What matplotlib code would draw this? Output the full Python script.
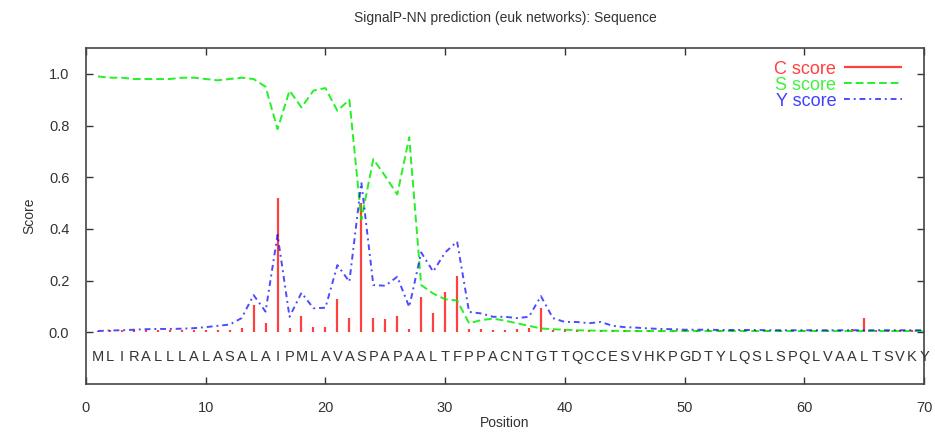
import matplotlib
matplotlib.use("Agg")
import matplotlib.pyplot as plt
from matplotlib import font_manager

title = "SignalP-NN prediction (euk networks): Sequence"
sequence = "MLIRALLLALASALAIPMLAVASPAPAALTFPPACNTGTTQCCESVHKPGDTYLQSLSPQLVAALTSVKY"
positions = list(range(1, 71))

c_score = [0.005, 0.008, 0.008, 0.008, 0.008, 0.01, 0.008, 0.01, 0.01, 0.008,
           0.008, 0.01, 0.015, 0.105, 0.035, 0.52, 0.015, 0.065, 0.02, 0.02,
           0.128, 0.055, 0.50, 0.055, 0.05, 0.065, 0.012, 0.135, 0.075, 0.155,
           0.218, 0.012, 0.012, 0.01, 0.01, 0.012, 0.015, 0.093, 0.01, 0.012,
           0.008, 0.01, 0.008, 0.01, 0.008, 0.01, 0.008, 0.008, 0.01, 0.008,
           0.01, 0.008, 0.008, 0.01, 0.008, 0.01, 0.008, 0.008, 0.01, 0.008,
           0.008, 0.01, 0.008, 0.012, 0.055, 0.01, 0.008, 0.008, 0.01, 0.008]

s_score = [0.99, 0.985, 0.985, 0.98, 0.98, 0.98, 0.98, 0.985, 0.985, 0.98,
           0.975, 0.98, 0.985, 0.98, 0.95, 0.786, 0.935, 0.87, 0.935, 0.945,
           0.857, 0.90, 0.436, 0.67, 0.604, 0.533, 0.755, 0.183, 0.15, 0.128,
           0.123, 0.035, 0.047, 0.053, 0.045, 0.035, 0.025, 0.015, 0.012, 0.01,
           0.008, 0.007, 0.006, 0.006, 0.005, 0.005, 0.005, 0.005, 0.005, 0.005,
           0.005, 0.005, 0.005, 0.005, 0.005, 0.005, 0.005, 0.005, 0.005, 0.005,
           0.005, 0.005, 0.005, 0.005, 0.005, 0.005, 0.005, 0.005, 0.005, 0.005]

y_score = [0.005, 0.007, 0.008, 0.01, 0.012, 0.013, 0.013, 0.014, 0.016, 0.02,
           0.025, 0.03, 0.055, 0.144, 0.08, 0.377, 0.06, 0.153, 0.093, 0.095,
           0.26, 0.196, 0.58, 0.183, 0.18, 0.215, 0.098, 0.309, 0.235, 0.309,
           0.351, 0.079, 0.073, 0.06, 0.06, 0.055, 0.06, 0.14, 0.055, 0.04,
           0.04, 0.035, 0.04, 0.025, 0.02, 0.018, 0.015, 0.013, 0.012, 0.01,
           0.01, 0.01, 0.009, 0.009, 0.009, 0.009, 0.008, 0.008, 0.008, 0.008,
           0.008, 0.008, 0.008, 0.008, 0.008, 0.008, 0.008, 0.008, 0.008, 0.008]

x_ticks = [0, 10, 20, 30, 40, 50, 60, 70]
y_ticks = [0.0, 0.2, 0.4, 0.6, 0.8, 1.0]

names = {f.name for f in font_manager.fontManager.ttflist}
fam = "Liberation Sans Narrow" if "Liberation Sans Narrow" in names else "Liberation Sans"
plt.rcParams['font.family'] = [fam, 'DejaVu Sans']

fig = plt.figure(figsize=(9.35, 4.34), dpi=100)
ax = fig.add_axes([86/935, 50/434, 838/935, 336/434])

ax.vlines(positions, 0, c_score, colors='#ff0000', linewidth=1.6, alpha=0.75, label='C score')
ax.plot(positions, s_score, color='#00ee00', linewidth=1.4, alpha=0.85,
        dashes=(4, 2), label='S score')
ax.plot(positions, y_score, color='#0000ff', linewidth=1.4, alpha=0.7,
        dashes=(3, 2, 1, 2), label='Y score')

for p, ch in zip(positions, sequence):
    ax.text(p, -0.097, ch, ha='center', va='center', fontsize=10.5, color='#333333')

ax.set_xlim(0, 70)
ax.set_ylim(-0.2, 1.1)
ax.set_xticks(x_ticks)
ax.set_yticks(y_ticks)
ax.set_yticklabels([f"{v:.1f}" for v in y_ticks])
ax.tick_params(direction='in', top=True, right=True, length=5, width=1,
               labelsize=10.5, colors='#333333', pad=12)
for sp in ax.spines.values():
    sp.set_color('#444444')
    sp.set_linewidth(1.2)

ax.set_xlabel("Position", fontsize=10, color='#333333', labelpad=1)
ax.set_ylabel("Score", fontsize=10, color='#333333', labelpad=9)
fig.suptitle(title, x=(86 + 924) / 2 / 935, y=1 - 18/434, va='center',
             fontsize=10, color='#333333')

leg = ax.legend(loc='upper right', frameon=False, markerfirst=False,
                labelcolor='linecolor', fontsize=13, handlelength=3.2,
                handletextpad=0.45, labelspacing=-0.05,
                bbox_to_anchor=(0.987, 0.995), borderaxespad=0.2)
for t, c in zip(leg.get_texts(), ['#ff0000', '#00ee00', '#0000ff']):
    t.set_color(c)
    t.set_alpha(0.75)

fig.savefig("out.png", dpi=100)
